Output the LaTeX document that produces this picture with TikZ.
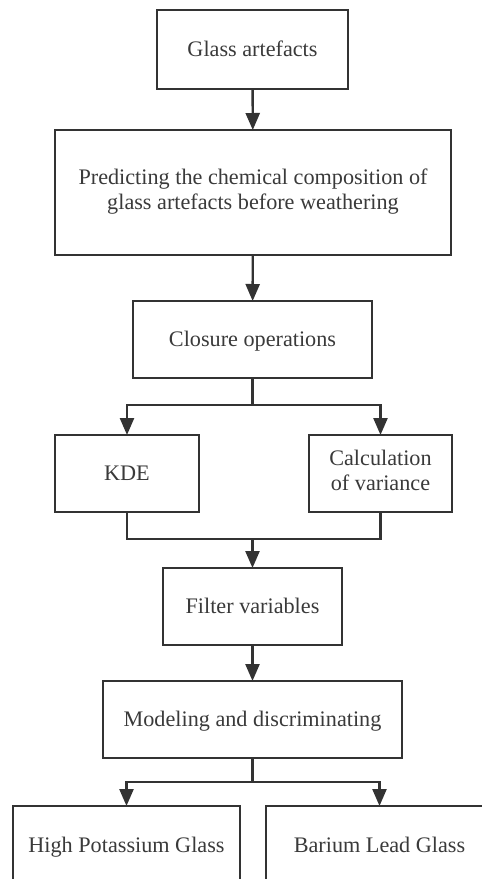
\documentclass[tikz,border=0pt]{standalone}
\usepackage{fontspec}
\setmainfont{Liberation Serif}
\usetikzlibrary{arrows.meta}
\definecolor{ink}{HTML}{333333}
\definecolor{txt}{HTML}{3A3A3A}
\newcommand{\boxstrut}{\rule[-6pt]{0pt}{26pt}}
\begin{document}
\begin{tikzpicture}[x=1pt,y=-1pt,
  box/.style={draw=ink, line width=2pt, fill=white, inner sep=0pt, outer sep=0pt,
    align=center, text=txt, font=\fontsize{22.2}{25}\selectfont,
    execute at begin node=\boxstrut},
  conn/.style={draw=ink, line width=2.4pt},
  arr/.style={conn, -{Triangle[width=14pt,length=17pt]}}]
\useasboundingbox (0,0) rectangle (482,879);
\clip (0,0) rectangle (482,879);
\fill[white] (0,0) rectangle (482,879);
\node[box, minimum width=191pt, minimum height=79pt] (b1) at (252.5,49.5) {Glass artefacts};
\node[box, minimum width=396pt, minimum height=125pt] (b2) at (253,192.5) {Predicting the chemical composition of\\glass artefacts before weathering};
\node[box, minimum width=239pt, minimum height=77pt] (b3) at (252.5,339.5) {Closure operations};
\node[box, minimum width=144pt, minimum height=77pt] (kde) at (127,473.5) {KDE};
\node[box, minimum width=143pt, minimum height=77pt] (calc) at (380.5,473.5) {Calculation\\of variance};
\node[box, minimum width=179pt, minimum height=77pt] (filt) at (252.5,606.5) {Filter variables};
\node[box, minimum width=299pt, minimum height=77pt] (mod) at (252.5,719.5) {Modeling and discriminating};
\node[box, minimum width=227pt, minimum height=78pt] (hpg) at (126.5,845) {High Potassium Glass};
\node[box, minimum width=227pt, minimum height=78pt] (bar) at (379.5,845) {Barium Lead Glass};
\coordinate (s1) at (252.5,405);
\coordinate (m1) at (252.5,539);
\coordinate (s2) at (252.5,782);
\draw[arr] (b1) -- (b2);
\draw[arr] (b2) -- (b3);
\draw[conn] (b3.south) -- (s1);
\draw[arr] (s1) -| (kde.north);
\draw[arr] (s1) -| (calc.north);
\draw[conn] (kde.south) |- (m1) -| (calc.south);
\draw[arr] (m1) -- (filt.north);
\draw[arr] (filt) -- (mod);
\draw[conn] (mod.south) -- (s2);
\draw[arr] (s2) -| (hpg.north);
\draw[arr] (s2) -| (bar.north);
\end{tikzpicture}
\end{document}
